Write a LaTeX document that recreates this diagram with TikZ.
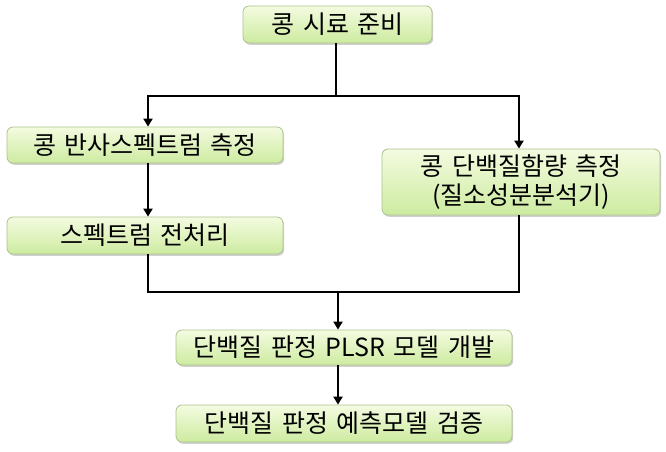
\documentclass[tikz,border=0pt]{standalone}
\usepackage{fontspec}
\setmainfont{Noto Sans CJK KR}[WordSpace=1.5]
\usetikzlibrary{shadows,arrows.meta}
\definecolor{boxtop}{RGB}{244,251,224}
\definecolor{boxbot}{RGB}{205,235,160}
\definecolor{boxedge}{RGB}{170,195,140}
\tikzset{
  stepbox/.style={draw=boxedge, line width=0.8pt, rounded corners=6pt,
    top color=boxtop, bottom color=boxbot, inner sep=0pt,
    font=\fontsize{25}{30}\selectfont, align=center,
    drop shadow={opacity=0.3, shadow xshift=1.2pt, shadow yshift=-1.8pt, fill=black!60}},
  conn/.style={line width=2.6pt, line join=miter},
  arr/.style={conn, -{Triangle[length=8pt,width=9pt]}}
}
\begin{document}
\begin{tikzpicture}[x=1pt,y=-1pt]
\useasboundingbox (0,0) rectangle (666,451);
\node[stepbox, minimum width=189pt, minimum height=37pt] (b1) at (337.5,24.5) {콩 시료 준비};
\node[stepbox, minimum width=276pt, minimum height=36pt] (b2) at (145,145) {콩 반사스펙트럼 측정};
\node[stepbox, minimum width=276pt, minimum height=37pt] (b3) at (145,235.5) {스펙트럼 전처리};
\node[stepbox, minimum width=278pt, minimum height=66pt] (b4) at (521,182) {콩 단백질함량 측정\\[-1pt](질소성분분석기)};
\node[stepbox, minimum width=336pt, minimum height=35pt] (b5) at (344,347.5) {단백질 판정 PLSR 모델 개발};
\node[stepbox, minimum width=336pt, minimum height=37pt] (b6) at (344,423.5) {단백질 판정 예측모델 검증};
\coordinate (t1) at (336,96);
\coordinate (tL) at (148,96);
\coordinate (tR) at (519,96);
\coordinate (m1) at (148,292);
\coordinate (mR) at (519,292);
\coordinate (mC) at (338,292);
\draw[conn] (b1.south -| t1) -- (t1);
\draw[arr] (t1) -- (tL) -- (tL |- b2.north);
\draw[arr] (t1) -- (tR) -- (tR |- b4.north);
\draw[arr] (tL |- b2.south) -- (tL |- b3.north);
\draw[conn] (m1 |- b3.south) -- (m1) -- (mR) -- (mR |- b4.south);
\draw[arr] (mC) -- (mC |- b5.north);
\draw[arr] (mC |- b5.south) -- (mC |- b6.north);
\end{tikzpicture}
\end{document}
